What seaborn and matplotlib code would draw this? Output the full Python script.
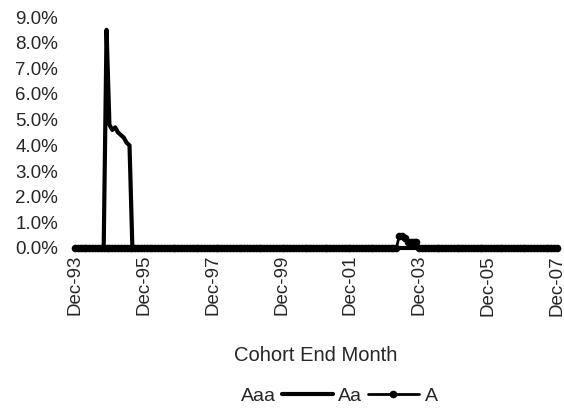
import numpy as np
import pandas as pd
import matplotlib
matplotlib.use('Agg')
import matplotlib.pyplot as plt
import seaborn as sns
from matplotlib.ticker import PercentFormatter

# monthly cohorts Dec-93 .. Dec-07 (169 months)
n_months = 169
tick_pos = [0, 24, 48, 72, 96, 120, 144, 168]
tick_labels = ['Dec-93', 'Dec-95', 'Dec-97', 'Dec-99', 'Dec-01', 'Dec-03', 'Dec-05', 'Dec-07']

# non-zero values (month index -> %)
aa_nonzero = {11: 8.5, 12: 4.8, 13: 4.6, 14: 4.7, 15: 4.5, 16: 4.4, 17: 4.3, 18: 4.1, 19: 4.0}
a_nonzero = {113: 0.45, 114: 0.45, 115: 0.4, 116: 0.25, 117: 0.25, 118: 0.25, 119: 0.25}

months = np.arange(n_months)
aaa = np.zeros(n_months)
aa = np.array([aa_nonzero.get(m, 0.0) for m in months])
a = np.array([a_nonzero.get(m, 0.0) for m in months])

df = pd.DataFrame({'month': months, 'Aaa': aaa, 'Aa': aa, 'A': a})

sns.set_style('white')
plt.rcParams['font.family'] = ['Liberation Sans', 'DejaVu Sans']

fig = plt.figure(figsize=(5.64, 4.12), dpi=100)
ax = fig.add_axes([75 / 564, 1 - 248 / 412, (557 - 75) / 564, (248 - 17) / 412])

sns.lineplot(data=df, x='month', y='Aaa', ax=ax, color='white', lw=1, label='Aaa')
sns.lineplot(data=df, x='month', y='Aa', ax=ax, color='black', lw=3.0, label='Aa')
sns.lineplot(data=df, x='month', y='A', ax=ax, color='black', lw=2.0,
             marker='o', markersize=5.5, markeredgewidth=0, label='A')
for ln in ax.lines:
    ln.set_clip_on(False)

ax.set_xlim(0, 168)
ax.set_ylim(0, 9)
ax.set_yticks(np.arange(0, 10, 1))
ax.yaxis.set_major_formatter(PercentFormatter(decimals=1))
ax.set_xticks(tick_pos)
ax.set_xticklabels(tick_labels, rotation=90)
ax.tick_params(axis='x', length=0, pad=5, labelsize=13.5)
ax.tick_params(axis='y', length=0, pad=12, labelsize=13.5)
ax.set_ylabel('')
ax.set_xlabel('Cohort End Month', fontsize=14.5, labelpad=22)
for s in ax.spines.values():
    s.set_visible(False)

ax.legend(loc='center', bbox_to_anchor=(0.49, -0.64), ncol=3, frameon=False,
          fontsize=14, handlelength=2.6, columnspacing=0.3, handletextpad=0.3)

fig.savefig('out.png', dpi=100)
